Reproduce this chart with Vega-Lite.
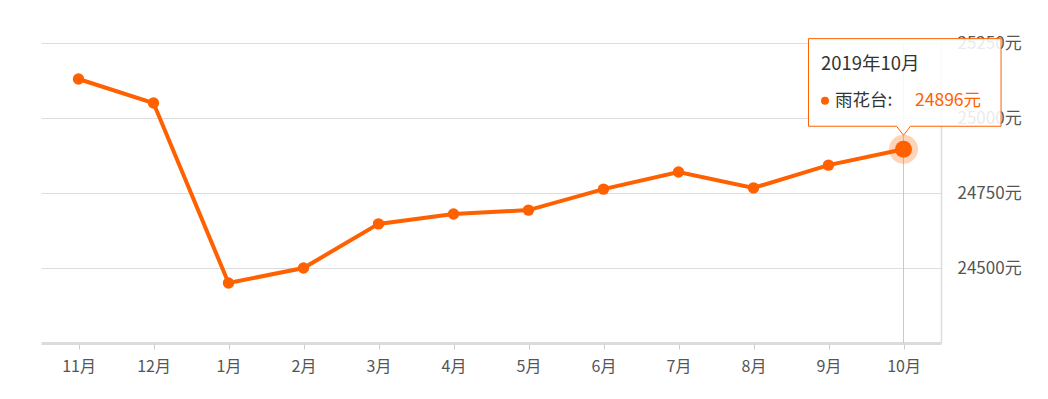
{
  "$schema": "https://vega.github.io/schema/vega-lite/v6.json",
  "width": 900,
  "height": 300,
  "autosize": {"type": "none"},
  "padding": {"left": 41, "top": 43, "right": 107, "bottom": 56},
  "background": "white",
  "config": {"view": {"stroke": null}, "font": "Noto Sans CJK SC"},
  "data": {
    "values": [
      {"month": "11月", "date": "2018年11月", "series": "雨花台", "value": 25130},
      {"month": "12月", "date": "2018年12月", "series": "雨花台", "value": 25050},
      {"month": "1月", "date": "2019年1月", "series": "雨花台", "value": 24450},
      {"month": "2月", "date": "2019年2月", "series": "雨花台", "value": 24500},
      {"month": "3月", "date": "2019年3月", "series": "雨花台", "value": 24647},
      {"month": "4月", "date": "2019年4月", "series": "雨花台", "value": 24680},
      {"month": "5月", "date": "2019年5月", "series": "雨花台", "value": 24693},
      {"month": "6月", "date": "2019年6月", "series": "雨花台", "value": 24763},
      {"month": "7月", "date": "2019年7月", "series": "雨花台", "value": 24820},
      {"month": "8月", "date": "2019年8月", "series": "雨花台", "value": 24767},
      {"month": "9月", "date": "2019年9月", "series": "雨花台", "value": 24843},
      {"month": "10月", "date": "2019年10月", "series": "雨花台", "value": 24896}
    ]
  },
  "encoding": {
    "x": {
      "field": "month",
      "type": "ordinal",
      "sort": ["11月", "12月", "1月", "2月", "3月", "4月", "5月", "6月", "7月", "8月", "9月", "10月"],
      "scale": {"type": "point", "padding": 0.5, "domain": ["11月", "12月", "1月", "2月", "3月", "4月", "5月", "6月", "7月", "8月", "9月", "10月"]},
      "axis": {
        "title": null,
        "labelAngle": 0,
        "domainColor": "#dcdcdc",
        "domainWidth": 3,
        "tickColor": "#cccccc",
        "tickSize": 6,
        "labelColor": "#555555",
        "labelFontSize": 16,
        "labelPadding": 9,
        "grid": false
      }
    }
  },
  "layer": [
    {
      "transform": [{"filter": "datum.month == '10月'"}],
      "mark": {"type": "rule", "color": "#c8c8c8", "strokeWidth": 1},
      "encoding": {
        "y": {"datum": 25250, "type": "quantitative"},
        "y2": {"datum": 24250}
      }
    },
    {
      "mark": {"type": "line", "color": "#ff6000", "strokeWidth": 4},
      "encoding": {
        "y": {
          "field": "value",
          "type": "quantitative",
          "scale": {"domain": [24250, 25250], "nice": false, "zero": false},
          "axis": {
            "orient": "right",
            "title": null,
            "values": [24500, 24750, 25000, 25250],
            "format": "d",
            "labelExpr": "datum.label + '元'",
            "domainColor": "#dddddd",
            "domainWidth": 1.5,
            "ticks": false,
            "labelPadding": 16,
            "labelColor": "#555555",
            "labelFontSize": 17,
            "grid": true,
            "gridColor": "#dddddd"
          }
        }
      }
    },
    {
      "mark": {"type": "circle", "color": "#ff6000", "size": 130, "opacity": 1},
      "encoding": {"y": {"field": "value", "type": "quantitative"}}
    },
    {
      "transform": [{"filter": "datum.month == '10月'"}],
      "mark": {"type": "circle", "color": "#ff6000", "size": 841, "opacity": 0.28},
      "encoding": {"y": {"field": "value", "type": "quantitative"}}
    },
    {
      "transform": [{"filter": "datum.month == '10月'"}],
      "mark": {"type": "circle", "color": "#ff6000", "size": 289, "opacity": 1},
      "encoding": {"y": {"field": "value", "type": "quantitative"}}
    },
    {
      "transform": [{"filter": "datum.month == '10月'"}],
      "mark": {
        "type": "point",
        "shape": "M-0.848,-0.987 L0.871,-0.987 L0.871,-0.205 L0.0625,-0.205 L0,-0.125 L-0.0625,-0.205 L-0.848,-0.205 Z",
        "size": 50176,
        "fill": "white",
        "fillOpacity": 0.88,
        "stroke": "#ff6000",
        "strokeWidth": 1,
        "opacity": 1
      },
      "encoding": {"y": {"field": "value", "type": "quantitative"}}
    },
    {
      "transform": [{"filter": "datum.month == '10月'"}],
      "mark": {"type": "text", "align": "left", "baseline": "middle", "dx": -82.5, "dy": -85.5, "fontSize": 18.5, "color": "#333333"},
      "encoding": {"y": {"field": "value", "type": "quantitative"}, "text": {"field": "date"}}
    },
    {
      "transform": [{"filter": "datum.month == '10月'"}],
      "mark": {"type": "circle", "color": "#ff6000", "size": 64, "opacity": 1, "xOffset": -78.5, "yOffset": -48.5},
      "encoding": {"y": {"field": "value", "type": "quantitative"}}
    },
    {
      "transform": [{"filter": "datum.month == '10月'"}, {"calculate": "datum.series + ':'", "as": "seriesLabel"}],
      "mark": {"type": "text", "align": "left", "baseline": "middle", "dx": -68.5, "dy": -48, "fontSize": 17.5, "color": "#333333"},
      "encoding": {"y": {"field": "value", "type": "quantitative"}, "text": {"field": "seriesLabel"}}
    },
    {
      "transform": [{"filter": "datum.month == '10月'"}, {"calculate": "datum.value + '元'", "as": "valueLabel"}],
      "mark": {"type": "text", "align": "left", "baseline": "middle", "dx": 11.5, "dy": -48, "fontSize": 17.5, "color": "#ff6000"},
      "encoding": {"y": {"field": "value", "type": "quantitative"}, "text": {"field": "valueLabel"}}
    }
  ]
}
